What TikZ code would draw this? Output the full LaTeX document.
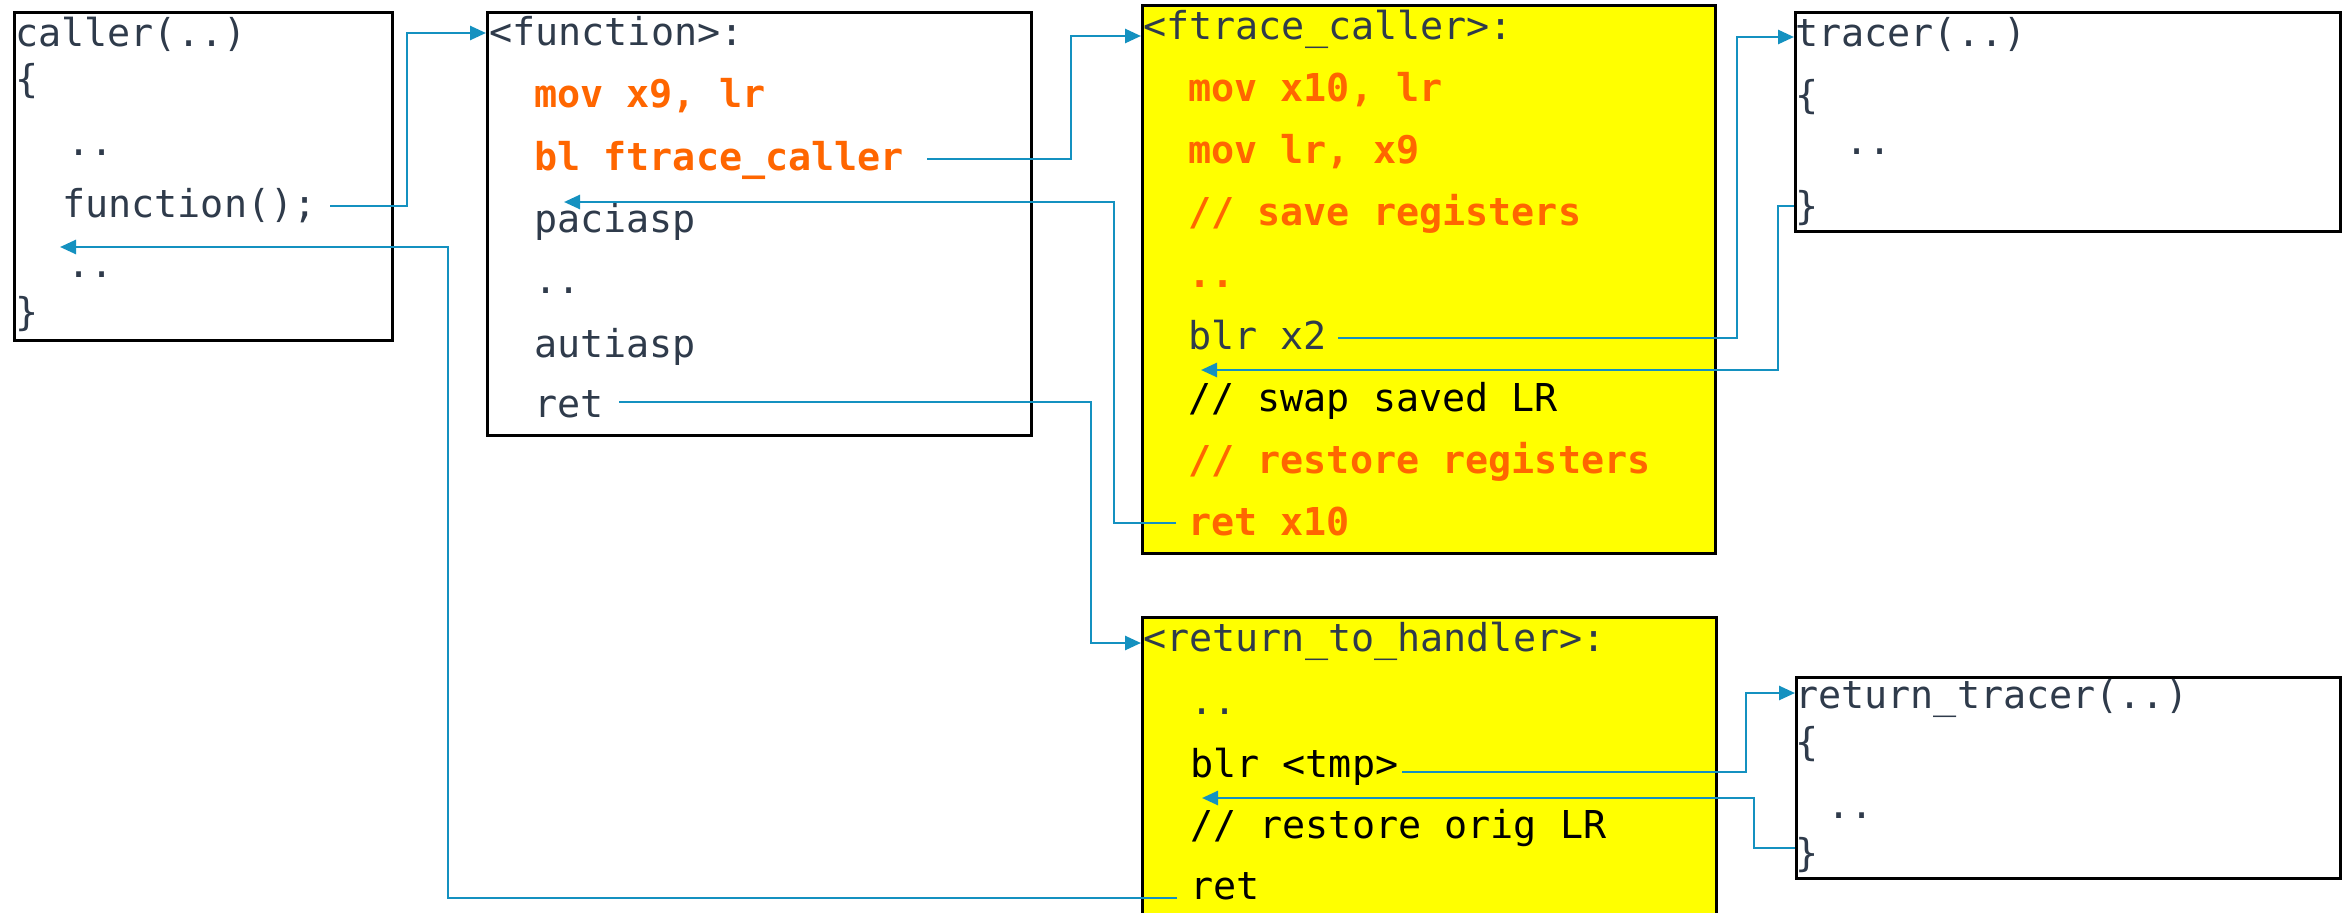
\documentclass[tikz,border=0pt]{standalone}
\usepackage{fontspec}
\newfontfamily\codefont{DejaVu Sans Mono}
\usetikzlibrary{arrows.meta,calc}
\definecolor{slate}{RGB}{47,59,75}
\definecolor{hot}{RGB}{255,102,0}
\definecolor{wire}{RGB}{20,145,192}
\definecolor{hl}{RGB}{255,255,0}
\tikzset{
  frame/.style={draw=black, line width=2.5pt, inner sep=0pt, anchor=north west},
  code/.style={anchor=base west, inner sep=0pt, text=slate,
    font=\codefont\fontsize{38.4}{46}\selectfont},
  hotcode/.style={code, text=hot, font=\codefont\bfseries\fontsize{38.4}{46}\selectfont},
  blk/.style={code, text=black},
  conn/.style={draw=wire, line width=2.6pt, -{Triangle[length=16pt,width=14pt]}},
}
\begin{document}
\begin{tikzpicture}[x=1pt,y=-1pt]
\path[use as bounding box] (0,0) rectangle (2351,913);
\clip (0,0) rectangle (2351,913);
\fill[white] (0,0) rectangle (2351,913);

% frames
\node[frame, minimum width=378pt, minimum height=328pt] (callerbox) at (13,11) {};
\node[frame, minimum width=544pt, minimum height=423pt] (funcbox) at (486,11) {};
\node[frame, fill=hl, minimum width=573pt, minimum height=548pt] (ftracebox) at (1141,4) {};
\node[frame, minimum width=545pt, minimum height=219pt] (tracerbox) at (1794,11) {};
\node[frame, fill=hl, minimum width=574pt, minimum height=330pt] (rthbox) at (1141,616) {};
\node[frame, minimum width=544pt, minimum height=201pt] (rtracerbox) at (1795,676) {};

% caller
\node[code] (c1) at (15,46) {caller(..)};
\node[code] (c2) at (15,92) {\{};
\node[code] (c3) at (67,155) {..};
\node[code] (c4) at (62,217) {function();};
\node[code] (c5) at (67,277) {..};
\node[code] (c6) at (15,325) {\}};

% function
\node[code] (f1) at (489,45) {<function>:};
\node[hotcode] (f2) at (534,107) {mov x9, lr};
\node[hotcode] (f3) at (534,170) {bl ftrace\_caller};
\node[code] (f4) at (534,232) {paciasp};
\node[code] (f5) at (534,293) {..};
\node[code] (f6) at (534,357) {autiasp};
\node[code] (f7) at (534,417) {ret};

% ftrace_caller
\node[code] (t1) at (1143,39) {<ftrace\_caller>:};
\node[hotcode] (t2) at (1188,101) {mov x10, lr};
\node[hotcode] (t3) at (1188,163) {mov lr, x9};
\node[hotcode] (t4) at (1188,225) {// save registers};
\node[hotcode] (t5) at (1188,287) {..};
\node[code] (t6) at (1188,349) {blr x2};
\node[blk] (t7) at (1188,411) {// swap saved LR};
\node[hotcode] (t8) at (1188,473) {// restore registers};
\node[hotcode] (t9) at (1188,535) {ret x10};

% tracer
\node[code] (r1) at (1795,46) {tracer(..)};
\node[code] (r2) at (1795,108) {\{};
\node[code] (r3) at (1845,154) {..};
\node[code] (r4) at (1795,219) {\}};

% return_to_handler
\node[code] (h1) at (1143,651) {<return\_to\_handler>:};
\node[code] (h2) at (1190,714) {..};
\node[blk] (h3) at (1190,777) {blr <tmp>};
\node[blk] (h4) at (1190,838) {// restore orig LR};
\node[blk] (h5) at (1190,899) {ret};

% return_tracer
\node[code] (q1) at (1795,708) {return\_tracer(..)};
\node[code] (q2) at (1795,755) {\{};
\node[code] (q3) at (1827,818) {..};
\node[code] (q4) at (1795,866) {\}};

% connector start points and bends
\coordinate (a1s) at (330,206);  \coordinate (a1b) at (407,33);
\coordinate (a2s) at (927,159);  \coordinate (a2b) at (1071,36);
\coordinate (a3s) at (1176,523); \coordinate (a3b) at (1114,202); \coordinate (a3e) at (564,202);
\coordinate (a4s) at (619,402);  \coordinate (a4b) at (1091,643);
\coordinate (a5s) at (1338,338); \coordinate (a5b) at (1737,37);
\coordinate (a6s) at (1794,206); \coordinate (a6b) at (1778,370); \coordinate (a6e) at (1201,370);
\coordinate (a7s) at (1402,772); \coordinate (a7b) at (1746,693);
\coordinate (a8s) at (1795,848); \coordinate (a8b) at (1754,798); \coordinate (a8e) at (1202,798);
\coordinate (a9s) at (1177,898); \coordinate (a9b) at (448,247);  \coordinate (a9e) at (60,247);

% connectors
\draw[conn] (a1s) -| (a1b) -- (funcbox.west |- a1b);
\draw[conn] (a2s) -| (a2b) -- (ftracebox.west |- a2b);
\draw[conn] (a3s) -| (a3b) -- (a3e);
\draw[conn] (a4s) -| (a4b) -- (rthbox.west |- a4b);
\draw[conn] (a5s) -| (a5b) -- (tracerbox.west |- a5b);
\draw[conn] (a6s) -| (a6b) -- (a6e);
\draw[conn] (a7s) -| (a7b) -- (rtracerbox.west |- a7b);
\draw[conn] (a8s) -| (a8b) -- (a8e);
\draw[conn] (a9s) -| (a9b) -- (a9e);
\end{tikzpicture}
\end{document}
